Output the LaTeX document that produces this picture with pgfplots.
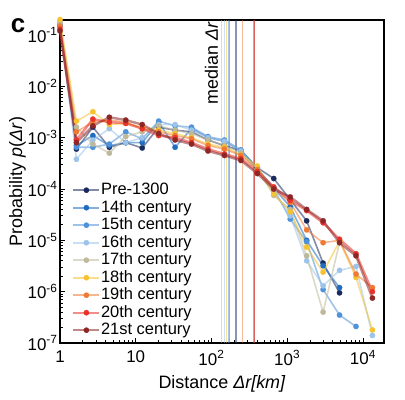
\documentclass[border=0pt]{standalone}
\usepackage{pgfplots}
\pgfplotsset{compat=1.18}
\usepackage{fontspec}
\setmainfont{Liberation Sans}
\definecolor{cPre}{HTML}{1B2A5E}
\definecolor{cXIV}{HTML}{1F6CC0}
\definecolor{cXV}{HTML}{4D92DA}
\definecolor{cXVI}{HTML}{9CC3E8}
\definecolor{cXVII}{HTML}{BDB99A}
\definecolor{cXVIII}{HTML}{F7C22F}
\definecolor{cXIX}{HTML}{EE7A33}
\definecolor{cXX}{HTML}{E8322A}
\definecolor{cXXI}{HTML}{8E2626}
\pgfplotsset{
  ser/.style={color=#1, line width=1.6pt, draw opacity=0.55, mark=*, mark size=2.7bp,
    mark options={solid, draw opacity=1, fill opacity=1, line width=0.2pt, fill=#1}},
  med/.style={color=#1, line width=1.1pt, opacity=0.5, forget plot}
}
\begin{document}
\begin{tikzpicture}
\useasboundingbox (-60bp,-57bp) rectangle (345bp,343bp);
\begin{axis}[at={(0,0)}, anchor=south west, scale only axis,
  width=324bp, height=323bp,
  xmode=log, ymode=log, xmin=1, xmax=19000, ymin=1e-7, ymax=0.196,
  axis line style={line width=1.3pt},
  tick align=inside, xtick pos=bottom, ytick pos=left,
  major tick length=5bp, minor tick length=3bp,
  every tick/.style={black, line width=0.8pt},
  xtick={1,10,100,1000,10000},
  xticklabels={1,10,10\textsuperscript{2},10\textsuperscript{3},10\textsuperscript{4}},
  ytick={1e-7,1e-6,1e-5,1e-4,1e-3,1e-2,1e-1},
  yticklabels={10\textsuperscript{-7},10\textsuperscript{-6},10\textsuperscript{-5},10\textsuperscript{-4},10\textsuperscript{-3},10\textsuperscript{-2},10\textsuperscript{-1}},
  ticklabel style={font=\fontsize{17}{17}\selectfont},
  xticklabel style={yshift=-4bp},
  yticklabel style={xshift=1bp},
  xlabel={Distance \textit{Δr[km]}}, ylabel={Probability \textit{p}(\textit{Δr})},
  label style={font=\fontsize{18}{18}\selectfont},
  xlabel style={yshift=-3bp}, ylabel style={yshift=-5bp},
  clip=false,
  legend style={at={(0.037,0.50)}, anchor=north west, draw=none, fill=none,
    font=\fontsize{16.5}{16.5}\selectfont, row sep=0.5bp, inner sep=0pt,
    nodes={inner sep=0.5bp, text height=12.5bp, text depth=3.5bp}},
  legend cell align=left,
  legend image code/.code={\draw[mark repeat=2,mark phase=2,#1] plot coordinates {(0bp,0bp) (13bp,0bp) (26bp,0bp)};},
]
\addplot[med=cXVII] coordinates {(134,1e-7) (134,0.196)};
\addplot[med=cXVI] coordinates {(147,1e-7) (147,0.196)};
\addplot[med=cXVIII] coordinates {(156,1e-7) (156,0.196)};
\addplot[med=cXV] coordinates {(166,1e-7) (166,0.196)};
\addplot[med=cXIV] coordinates {(172,1e-7) (172,0.196)};
\addplot[med=cPre] coordinates {(211,1e-7) (211,0.196)};
\addplot[med=cXIX] coordinates {(254,1e-7) (254,0.196)};
\addplot[med=cXXI] coordinates {(372,1e-7) (372,0.196)};
\addplot[med=cXX] coordinates {(365,1e-7) (365,0.196)};

\addplot[ser=cPre] coordinates {(1,0.15) (1.6487,6e-4) (2.7183,1.6e-3) (4.4817,6.5e-4) (7.3891,8e-4) (12.1825,6.3e-4) (20.0855,1.6e-3) (33.1155,1.4e-3) (54.5982,1.3e-3) (90.0171,9e-4) (148.4132,7e-4) (244.6919,5.6e-4) (403.4288,2.6e-4) (665.1416,1.6e-4) (1096.6332,6.2e-5) (1808.0424,2.4e-5) (2980.958,3.6e-6) (4914.7688,9.5e-7)};
\addlegendentry{Pre-1300}
\addplot[ser=cXIV] coordinates {(1,0.16) (1.6487,7e-4) (2.7183,1.1e-3) (4.4817,7e-4) (7.3891,8e-4) (12.1825,8e-4) (20.0855,2.0e-3) (33.1155,6.5e-4) (54.5982,1.5e-3) (90.0171,1.0e-3) (148.4132,8.5e-4) (244.6919,5.5e-4) (403.4288,2.5e-4) (665.1416,1.05e-4) (1096.6332,4.5e-5) (1808.0424,1.0e-5) (2980.958,3.2e-6) (4914.7688,1.2e-6)};
\addlegendentry{14th century}
\addplot[ser=cXV] coordinates {(1,0.16) (1.6487,6.5e-4) (2.7183,6.5e-4) (4.4817,7.5e-4) (7.3891,1.3e-3) (12.1825,9.5e-4) (20.0855,2.1e-3) (33.1155,1.7e-3) (54.5982,1.6e-3) (90.0171,1.05e-3) (148.4132,9e-4) (244.6919,5.8e-4) (403.4288,2.5e-4) (665.1416,1.0e-4) (1096.6332,2.6e-5) (1808.0424,9.4e-6) (2980.958,1.1e-6) (4914.7688,3.5e-7) (8103.0839,2.1e-7)};
\addlegendentry{15th century}
\addplot[ser=cXVI] coordinates {(1,0.17) (1.6487,3.8e-4) (2.7183,9e-4) (4.4817,1.5e-3) (7.3891,8e-4) (12.1825,1.0e-3) (20.0855,1.8e-3) (33.1155,1.8e-3) (54.5982,1.4e-3) (90.0171,1.0e-3) (148.4132,8.5e-4) (244.6919,5.5e-4) (403.4288,2.4e-4) (665.1416,9e-5) (1096.6332,3e-5) (1808.0424,4e-6) (2980.958,1.3e-6) (4914.7688,2.6e-6) (8103.0839,3.1e-6) (13359.7268,1.4e-7)};
\addlegendentry{16th century}
\addplot[ser=cXVII] coordinates {(1,0.18) (1.6487,1.6e-3) (2.7183,7.5e-4) (4.4817,5e-4) (7.3891,1.05e-3) (12.1825,1.3e-3) (20.0855,1.7e-3) (33.1155,1.4e-3) (54.5982,1.2e-3) (90.0171,9e-4) (148.4132,7e-4) (244.6919,5e-4) (403.4288,2.4e-4) (665.1416,7.5e-5) (1096.6332,4e-5) (1808.0424,5e-6) (2980.958,4e-7) (4914.7688,9e-6)};
\addlegendentry{17th century}
\addplot[ser=cXVIII] coordinates {(1,0.2) (1.6487,2.1e-3) (2.7183,3.2e-3) (4.4817,1.8e-3) (7.3891,1.9e-3) (12.1825,1.6e-3) (20.0855,1.4e-3) (33.1155,1.2e-3) (54.5982,1.0e-3) (90.0171,7.5e-4) (148.4132,6.5e-4) (244.6919,4.6e-4) (403.4288,2.8e-4) (665.1416,8e-5) (1096.6332,3.6e-5) (1808.0424,7.4e-6) (2980.958,2.4e-6) (4914.7688,9.5e-6) (8103.0839,1.9e-6) (13359.7268,1.8e-7)};
\addlegendentry{18th century}
\addplot[ser=cXIX] coordinates {(1,0.15) (1.6487,1.3e-3) (2.7183,2.0e-3) (4.4817,2.2e-3) (7.3891,2.0e-3) (12.1825,1.5e-3) (20.0855,1.3e-3) (33.1155,1.1e-3) (54.5982,9.5e-4) (90.0171,7e-4) (148.4132,6e-4) (244.6919,4.5e-4) (403.4288,2.4e-4) (665.1416,1.0e-4) (1096.6332,5.5e-5) (1808.0424,1.6e-5) (2980.958,9e-6) (4914.7688,1.0e-5) (8103.0839,2.2e-6) (13359.7268,1.2e-6)};
\addlegendentry{19th century}
\addplot[ser=cXX, line width=2.4pt] coordinates {(1,0.13) (1.6487,9e-4) (2.7183,2.3e-3) (4.4817,2.0e-3) (7.3891,1.9e-3) (12.1825,1.5e-3) (20.0855,1.1e-3) (33.1155,1.0e-3) (54.5982,8e-4) (90.0171,6e-4) (148.4132,4.8e-4) (244.6919,3.9e-4) (403.4288,2.2e-4) (665.1416,1.1e-4) (1096.6332,6e-5) (1808.0424,3.8e-5) (2980.958,2.2e-5) (4914.7688,1.05e-5) (8103.0839,5.5e-6) (13359.7268,1.0e-6)};
\addlegendentry{20th century}
\addplot[ser=cXXI, line width=2.4pt] coordinates {(1,0.12) (1.6487,8e-4) (2.7183,1.7e-3) (4.4817,2.5e-3) (7.3891,2.2e-3) (12.1825,1.8e-3) (20.0855,1.2e-3) (33.1155,9e-4) (54.5982,7.5e-4) (90.0171,5.5e-4) (148.4132,4.5e-4) (244.6919,3.6e-4) (403.4288,2.0e-4) (665.1416,1.0e-4) (1096.6332,7e-5) (1808.0424,4.0e-5) (2980.958,2.4e-5) (4914.7688,9e-6) (8103.0839,5e-6) (13359.7268,7.5e-7)};
\addlegendentry{21st century}
\node[rotate=90, font=\fontsize{18}{18}\selectfont] at (axis cs:100,0.0285) {median \textit{Δr}};
\end{axis}
\node[font=\bfseries\fontsize{26}{26}\selectfont] at (-42bp,317bp) {c};
\end{tikzpicture}
\end{document}
